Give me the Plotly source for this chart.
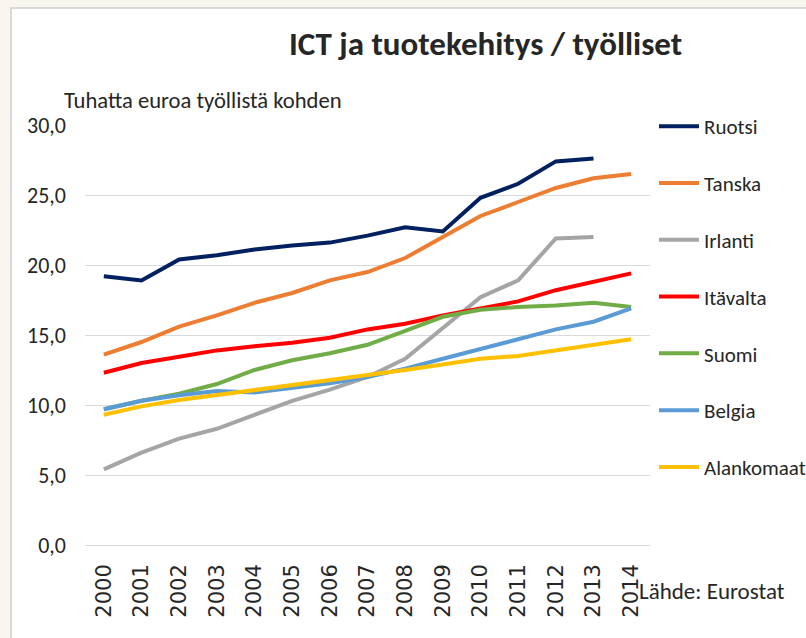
import plotly.graph_objects as go

years = [str(y) for y in range(2000, 2015)]

ruotsi = [19.2, 18.9, 20.4, 20.7, 21.1, 21.4, 21.6, 22.1, 22.7, 22.4, 24.8, 25.8, 27.4, 27.6, None]
tanska = [13.6, 14.5, 15.6, 16.4, 17.3, 18.0, 18.9, 19.5, 20.5, 22.0, 23.5, 24.5, 25.5, 26.2, 26.5]
irlanti = [5.4, 6.6, 7.6, 8.3, 9.3, 10.3, 11.1, 12.0, 13.3, 15.5, 17.7, 18.9, 21.9, 22.0, None]
itavalta = [12.3, 13.0, 13.45, 13.9, 14.2, 14.45, 14.8, 15.4, 15.8, 16.4, 16.9, 17.4, 18.2, 18.8, 19.4]
suomi = [9.7, 10.3, 10.8, 11.5, 12.5, 13.2, 13.7, 14.3, 15.3, 16.3, 16.8, 17.0, 17.1, 17.3, 17.0]
belgia = [9.7, 10.3, 10.7, 11.0, 10.9, 11.2, 11.55, 12.0, 12.6, 13.3, 14.0, 14.7, 15.4, 15.95, 16.9]
alankomaat = [9.3, 9.9, 10.35, 10.7, 11.1, 11.4, 11.8, 12.1, 12.5, 12.9, 13.3, 13.5, 13.9, 14.3, 14.7]

series = [
    ("Ruotsi", ruotsi, "#002060"),
    ("Tanska", tanska, "#ED7D31"),
    ("Irlanti", irlanti, "#A5A5A5"),
    ("Itävalta", itavalta, "#FF0000"),
    ("Suomi", suomi, "#70AD47"),
    ("Belgia", belgia, "#5B9BD5"),
    ("Alankomaat", alankomaat, "#FFC000"),
]

title_text = "ICT ja tuotekehitys / työlliset"
ytitle_text = "Tuhatta euroa työllistä kohden"
source_text = "Lähde: Eurostat"

FONT = "Carlito, 'Liberation Sans Narrow', 'DejaVu Sans Condensed', 'Noto Sans', sans-serif"

# plot area in pixels
W, H = 806, 638
L, R, T, B = 85, 650, 125, 545
pw, ph = R - L, B - T

def px(x):
    return (x - L) / pw

def py(y):
    return (B - y) / ph

fig = go.Figure()
for i, (name, vals, col) in enumerate(series):
    fig.add_trace(go.Scatter(
        x=years, y=vals, name=name, mode="lines",
        line=dict(color=col, width=4),
        legendgroup=f"g{i}", connectgaps=False,
    ))

fig.update_layout(
    width=W, height=H,
    margin=dict(l=L, r=W - R, t=T, b=H - B, pad=0, autoexpand=False),
    paper_bgcolor="#F8F4EE",
    plot_bgcolor="white",
    font=dict(family=FONT, color="#262626", size=20),
    showlegend=True,
    legend=dict(
        x=px(654), y=py(106), xanchor="left", yanchor="top",
        font=dict(family=FONT, size=21, color="#262626"),
        tracegroupgap=26.5, bgcolor="rgba(0,0,0,0)",
        itemwidth=40, maxheight=1,
    ),
    separators=",.",
    xaxis=dict(
        type="category", range=[-0.5, 14.5],
        showgrid=False, showline=False, ticks="",
        tickangle=-90,
        tickfont=dict(family="'DejaVu Sans', sans-serif", size=21, color="#262626"),
        ticklabelstandoff=14,
    ),
    yaxis=dict(
        range=[0, 30], dtick=5, tickformat=".1f",
        showgrid=True, gridcolor="#D9D9D9", gridwidth=1,
        zeroline=True, zerolinecolor="#D9D9D9", zerolinewidth=1,
        showline=False, ticks="",
        tickfont=dict(family=FONT, size=22, color="#262626"),
        ticklabelstandoff=18,
    ),
    shapes=[
        dict(type="rect", xref="paper", yref="paper", layer="below",
             x0=px(11), x1=px(812), y0=py(8), y1=py(645),
             fillcolor="white", line=dict(color="#D9D9D9", width=2)),
    ],
    annotations=[
        dict(text=title_text, xref="paper", yref="paper", x=px(486), y=py(44),
             xanchor="center", yanchor="middle", showarrow=False,
             font=dict(family=FONT, size=33, color="#262626", weight="bold")),
        dict(text=ytitle_text, xref="paper", yref="paper", x=px(62), y=py(100),
             xanchor="left", yanchor="middle", showarrow=False,
             font=dict(family=FONT, size=22.6, color="#262626")),
        dict(text=source_text, xref="paper", yref="paper", x=px(637), y=py(591),
             xanchor="left", yanchor="middle", showarrow=False,
             font=dict(family=FONT, size=23, color="#262626")),
    ],
)

fig.write_html(
    "out.html",
    config={"displayModeBar": False},
    post_script="document.body.style.margin='0';document.body.style.background='#F8F4EE';",
)
